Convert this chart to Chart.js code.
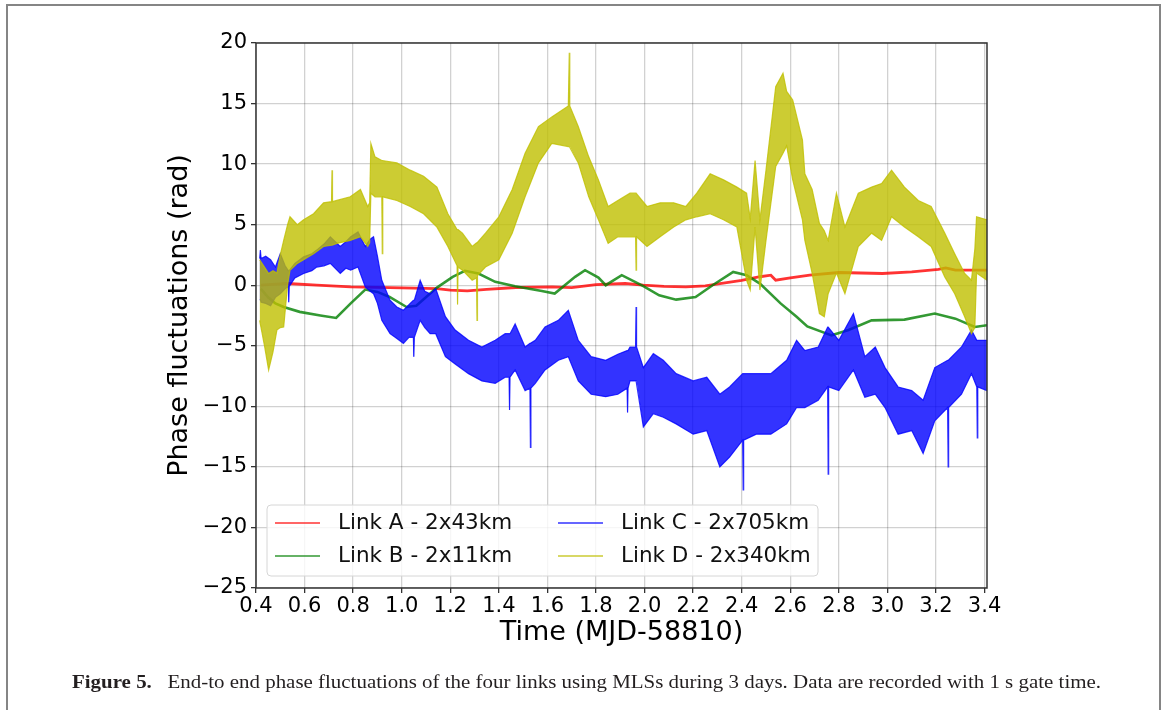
<!DOCTYPE html>
<html>
<head>
<meta charset="utf-8">
<script src="https://cdn.jsdelivr.net/npm/chart.js@4.4.1/dist/chart.umd.min.js"></script>
<style>
  html, body { margin: 0; padding: 0; background: #fff; }
  #wrap { position: relative; width: 1165px; height: 710px; overflow: hidden; }
  #frame { position: absolute; left: 6px; top: 4px; width: 1151px; height: 760px;
           border-top: 2px solid #858585; border-left: 2px solid #858585; border-right: 2px solid #858585; }
  #chartBox { position: absolute; left: 0; top: 0; width: 1165px; height: 710px; }
  #cap { position: absolute; left: 72px; top: 672px; font-family: "Liberation Serif", serif;
         font-size: 18.5px; line-height: 20px; color: #231f20; white-space: nowrap; transform-origin: 0 0; }
</style>
</head>
<body>
<div id="wrap">
  <div id="frame"></div>
  <div id="chartBox"><canvas id="phaseChart"></canvas></div>
  <div id="cap"><b>Figure 5.</b>&ensp; End-to end phase fluctuations of the four links using MLSs during 3 days. Data are recorded with 1 s gate time.</div>
</div>
<script>
// Phase fluctuation chart - four links

const xTicks = [0.4, 0.6, 0.8, 1.0, 1.2, 1.4, 1.6, 1.8, 2.0, 2.2, 2.4, 2.6, 2.8, 3.0, 3.2, 3.4];
const yTicks = [-25, -20, -15, -10, -5, 0, 5, 10, 15, 20];

const seriesLabels = ['Link A - 2x43km', 'Link B - 2x11km', 'Link C - 2x705km', 'Link D - 2x340km'];

// Link A (red) - smooth line
const linkATime = [0.42, 0.45, 0.53, 0.65, 0.79, 0.95, 1.145, 1.2, 1.27, 1.35, 1.47, 1.62, 1.7, 1.8, 1.92, 1.995,
    2.08, 2.17, 2.25, 2.31, 2.4, 2.475, 2.52, 2.54, 2.6, 2.68, 2.8, 2.98, 3.1, 3.21, 3.24, 3.28, 3.41];
const linkAPhase = [0.0, 0.05, 0.14, 0.0, -0.14, -0.2, -0.28, -0.4, -0.47, -0.35, -0.19, -0.14, -0.2, 0.05, 0.14, 0.0,
    -0.1, -0.14, -0.05, 0.14, 0.4, 0.7, 0.83, 0.41, 0.6, 0.83, 1.05, 0.97, 1.1, 1.3, 1.43, 1.24, 1.24];

// Link B (green) - smooth line
const linkBTime = [0.42, 0.45, 0.48, 0.514, 0.58, 0.665, 0.73, 0.79, 0.85, 0.9, 0.95, 1.02, 1.06, 1.145, 1.21, 1.26,
    1.316, 1.385, 1.467, 1.577, 1.63, 1.714, 1.755, 1.81, 1.84, 1.906, 1.995, 2.06, 2.13, 2.21, 2.28, 2.365, 2.42,
    2.475, 2.56, 2.626, 2.67, 2.77, 2.84, 2.935, 3.07, 3.195, 3.28, 3.36, 3.41];
const linkBPhase = [-0.3, -1.0, -1.5, -1.8, -2.2, -2.5, -2.7, -1.5, -0.36, -0.55, -0.97, -1.8, -1.7, -0.2, 0.69, 1.19,
    0.97, 0.28, -0.08, -0.47, -0.69, 0.69, 1.24, 0.63, 0.0, 0.83, -0.08, -0.83, -1.19, -0.97, 0.0, 1.1, 0.83,
    0.14, -1.5, -2.6, -3.4, -4.14, -3.7, -2.9, -2.84, -2.34, -2.76, -3.45, -3.3];

// Link C (blue) - noisy band: lower / upper envelope
const linkCTime = [0.415, 0.418, 0.421, 0.44, 0.46, 0.48, 0.5, 0.52, 0.533, 0.535, 0.537, 0.56, 0.596, 0.63, 0.65, 0.68,
    0.706, 0.747, 0.77, 0.79, 0.82, 0.85, 0.87, 0.884, 0.9, 0.918, 0.952, 0.98, 1.007, 1.03, 1.048, 1.05, 1.052,
    1.076, 1.095, 1.117, 1.14, 1.18, 1.22, 1.275, 1.33, 1.385, 1.426, 1.442, 1.444, 1.446, 1.467, 1.508, 1.528,
    1.53, 1.532, 1.55, 1.59, 1.645, 1.686, 1.727, 1.78, 1.84, 1.89, 1.928, 1.93, 1.932, 1.94, 1.963, 1.965,
    1.967, 1.995, 2.036, 2.077, 2.13, 2.2, 2.256, 2.31, 2.35, 2.404, 2.406, 2.408, 2.46, 2.52, 2.585, 2.626,
    2.66, 2.715, 2.754, 2.756, 2.758, 2.8, 2.86, 2.907, 2.95, 2.99, 3.044, 3.1, 3.147, 3.195, 3.248, 3.25,
    3.252, 3.305, 3.346, 3.368, 3.37, 3.372, 3.41];
const linkCLow = [-1.2, -1.2, -1.4, -1.5, -1.7, -1.0, -0.7, -0.3, -0.1, -1.4, -0.1, 0.6, 0.97, 1.2, 1.5, 1.6,
    1.8, 0.97, 1.4, 1.24, 1.5, -0.14, -0.5, -0.7, -1.5, -2.9, -4.0, -4.4, -4.8, -4.3, -4.3, -5.9, -4.3,
    -2.9, -3.5, -4.0, -4.0, -5.9, -6.5, -7.3, -7.9, -8.1, -7.6, -7.6, -10.3, -7.6, -7.0, -8.7, -8.5,
    -13.4, -8.5, -8.1, -7.0, -6.2, -5.9, -7.9, -9.0, -9.2, -9.0, -8.5, -10.5, -8.5, -7.9, -7.9, -7.9,
    -7.9, -11.7, -10.6, -10.9, -11.45, -12.3, -12.0, -15.0, -14.2, -12.8, -16.9, -12.8, -12.3, -12.3, -11.45, -10.1,
    -10.1, -9.5, -8.4, -15.6, -8.4, -8.7, -7.0, -9.25, -9.0, -10.1, -12.3, -12.0, -13.9, -11.2, -10.1, -15.0,
    -10.1, -9.0, -7.3, -8.4, -12.6, -8.4, -8.7];
const linkCHigh = [2.2, 2.9, 2.2, 2.4, 2.1, 1.5, 2.6, 1.6, 1.2, 1.2, 1.2, 1.8, 2.34, 2.6, 2.9, 3.4,
    4.0, 3.2, 3.6, 4.0, 4.4, 3.2, 3.8, 4.0, 2.4, 0.41, -1.24, -1.8, -2.07, -1.6, -1.24, -1.24, -1.24,
    0.41, -0.5, -0.7, -0.27, -2.6, -3.7, -4.55, -5.1, -4.55, -4.0, -4.0, -4.0, -4.0, -3.2, -5.1, -4.8,
    -4.8, -4.8, -4.55, -3.45, -2.9, -2.07, -4.55, -5.9, -6.2, -5.7, -5.4, -5.4, -5.4, -5.1, -5.1, -1.8,
    -5.1, -6.8, -5.65, -6.2, -7.3, -7.9, -7.6, -9.0, -8.4, -7.3, -7.3, -7.3, -7.3, -7.3, -6.2, -4.55,
    -5.4, -5.1, -3.45, -3.45, -3.45, -4.55, -2.34, -5.9, -5.1, -6.8, -8.4, -8.7, -9.5, -6.8, -6.2, -6.2,
    -6.2, -5.1, -3.7, -4.55, -4.55, -4.55, -4.55];

// Link D (yellow) - noisy band: lower / upper envelope
const linkDTime = [0.415, 0.435, 0.452, 0.47, 0.486, 0.5, 0.514, 0.53, 0.54, 0.57, 0.596, 0.637, 0.678, 0.711, 0.713,
    0.715, 0.733, 0.788, 0.83, 0.86, 0.868, 0.873, 0.89, 0.918, 0.92, 0.922, 0.98, 1.035, 1.09, 1.145, 1.19,
    1.228, 1.23, 1.232, 1.25, 1.29, 1.308, 1.31, 1.312, 1.345, 1.4, 1.455, 1.508, 1.563, 1.618, 1.686, 1.688,
    1.69, 1.692, 1.727, 1.77, 1.81, 1.85, 1.89, 1.94, 1.963, 1.965, 1.967, 2.01, 2.064, 2.12, 2.17, 2.215,
    2.27, 2.325, 2.38, 2.42, 2.435, 2.455, 2.475, 2.5, 2.54, 2.57, 2.585, 2.61, 2.65, 2.66, 2.69, 2.72,
    2.74, 2.756, 2.79, 2.825, 2.88, 2.935, 2.976, 3.017, 3.07, 3.127, 3.18, 3.236, 3.277, 3.318, 3.346,
    3.36, 3.367, 3.41];
const linkDLow = [-2.9, -5.0, -7.0, -5.5, -3.7, -3.5, -3.45, 0.0, 1.24, 1.8, 2.1, 2.6, 3.2, 3.3, 3.3,
    3.3, 3.45, 3.7, 4.0, 3.2, 3.5, 7.6, 7.3, 7.3, 2.6, 7.3, 7.0, 6.5, 5.9, 4.8, 3.2,
    1.6, -1.6, 1.5, 1.24, 0.41, 0.6, -2.9, 0.8, 1.5, 2.1, 4.3, 7.3, 10.1, 11.7, 11.45, 11.45,
    11.45, 11.45, 10.1, 7.3, 5.4, 3.45, 4.0, 4.0, 4.0, 1.24, 4.0, 3.2, 4.0, 4.8, 5.4, 5.65,
    5.9, 5.4, 4.8, 0.4, -0.4, 4.8, -0.4, 3.7, 9.8, 10.9, 11.5, 8.7, 5.4, 3.7, 1.0, -2.34,
    -2.6, -0.7, 1.0, -0.7, 3.2, 4.3, 3.7, 5.65, 4.8, 4.0, 3.2, 0.69, -0.7, -2.6, -4.0,
    -3.5, 1.0, 0.41];
const linkDHigh = [2.1, 1.5, 0.97, 1.2, 1.0, 2.5, 3.7, 5.0, 5.65, 5.0, 5.4, 5.9, 6.8, 6.9, 9.5,
    6.9, 7.0, 7.3, 7.9, 6.5, 6.8, 11.7, 10.6, 10.3, 10.3, 10.3, 10.1, 9.5, 9.0, 8.1, 5.9,
    4.6, 4.6, 4.6, 4.3, 3.2, 3.5, 3.5, 3.5, 4.3, 5.65, 7.9, 10.9, 13.1, 13.9, 14.8, 14.8,
    19.2, 14.8, 13.1, 10.6, 8.7, 6.5, 7.0, 7.6, 7.6, 7.6, 7.6, 6.5, 6.8, 6.8, 6.5, 7.6,
    9.2, 8.7, 8.1, 7.6, 5.5, 10.3, 5.4, 9.5, 16.4, 17.5, 16.0, 15.3, 12.0, 9.2, 7.9, 5.1,
    4.5, 3.7, 7.6, 4.8, 7.6, 8.1, 8.4, 9.5, 8.1, 7.0, 6.5, 4.3, 2.6, 0.97, 0.41,
    3.0, 5.65, 5.4];

const colors = {
    a: 'rgba(255, 0, 0, 0.8)',
    b: 'rgba(0, 128, 0, 0.8)',
    c: 'rgba(0, 0, 255, 0.8)',
    d: 'rgba(191, 191, 0, 0.8)'
};

function toPoints(xs, ys) {
    return xs.map((x, i) => ({ x: x, y: ys[i] }));
}

function lineSet(label, xs, ys, color, order, width) {
    return {
        label: label,
        data: toPoints(xs, ys),
        borderColor: color,
        backgroundColor: color,
        borderWidth: width,
        pointRadius: 0,
        tension: 0,
        fill: false,
        order: order
    };
}

function bandSets(label, xs, lo, hi, color, order) {
    const low = lineSet(label + ' (low)', xs, lo, color, order, 1.2);
    const high = lineSet(label, xs, hi, color, order, 1.2);
    high.fill = '-1';
    return [low, high];
}

// matplotlib-like legend box inside the axes, two columns
const legendPlugin = {
    id: 'mplLegend',
    afterDraw(chart) {
        const ctx = chart.ctx;
        const area = chart.chartArea;
        const boxX = area.left + 11, boxY = area.top + 462, boxW = 551, boxH = 71;
        ctx.save();
        ctx.beginPath();
        ctx.roundRect(boxX, boxY, boxW, boxH, 4);
        ctx.fillStyle = 'rgba(255,255,255,0.8)';
        ctx.fill();
        ctx.strokeStyle = '#d6d6d6';
        ctx.lineWidth = 1;
        ctx.stroke();

        const entries = [
            { text: seriesLabels[0], color: colors.a, col: 0, row: 0 },
            { text: seriesLabels[1], color: colors.b, col: 0, row: 1 },
            { text: seriesLabels[2], color: colors.c, col: 1, row: 0 },
            { text: seriesLabels[3], color: colors.d, col: 1, row: 1 }
        ];
        ctx.font = '21.5px "DejaVu Sans"';
        ctx.textBaseline = 'middle';
        ctx.textAlign = 'left';
        entries.forEach(e => {
            const x0 = boxX + 8 + e.col * 283;
            const y = boxY + 18 + e.row * 33;
            ctx.beginPath();
            ctx.moveTo(x0, y);
            ctx.lineTo(x0 + 45, y);
            ctx.strokeStyle = e.color;
            ctx.lineWidth = 1.6;
            ctx.stroke();
            ctx.fillStyle = '#111';
            ctx.fillText(e.text, x0 + 63, y);
        });

        // axes frame (spines)
        ctx.strokeStyle = '#333';
        ctx.lineWidth = 1.5;
        ctx.strokeRect(area.left, area.top, area.right - area.left, area.bottom - area.top);
        ctx.restore();
    }
};

const datasets = [
    ...bandSets(seriesLabels[3], linkDTime, linkDLow, linkDHigh, colors.d, 1),
    ...bandSets(seriesLabels[2], linkCTime, linkCLow, linkCHigh, colors.c, 2),
    lineSet(seriesLabels[1], linkBTime, linkBPhase, colors.b, 3, 2.6),
    lineSet(seriesLabels[0], linkATime, linkAPhase, colors.a, 4, 2.8)
];

const tickFont = { family: 'DejaVu Sans', size: 21 };
const titleFont = { family: 'DejaVu Sans', size: 27 };

const ctx = document.getElementById('phaseChart');
const chart = new Chart(ctx, {
    type: 'line',
    data: { datasets: datasets },
    options: {
        responsive: true,
        maintainAspectRatio: false,
        animation: false,
        events: [],
        layout: { padding: { left: 160, top: 43, right: 178, bottom: 61 } },
        plugins: {
            legend: { display: false },
            tooltip: { enabled: false },
            filler: { propagate: false }
        },
        scales: {
            x: {
                type: 'linear',
                min: 0.4,
                max: 3.41,
                afterBuildTicks: scale => { scale.ticks = xTicks.map(v => ({ value: v })); },
                afterFit: scale => { scale.height = 61; },
                ticks: {
                    font: tickFont, color: '#000', padding: 1, maxRotation: 0, autoSkip: false,
                    callback: v => v.toFixed(1)
                },
                grid: { color: 'rgba(0,0,0,0.18)', lineWidth: 1.3, tickColor: '#333', tickLength: 5, tickWidth: 1.3 },
                border: { display: false },
                title: { display: true, text: 'Time (MJD-58810)', font: titleFont, color: '#000', padding: { top: 0, bottom: 0 } }
            },
            y: {
                type: 'linear',
                min: -25,
                max: 20,
                afterBuildTicks: scale => { scale.ticks = yTicks.map(v => ({ value: v })); },
                afterFit: scale => { scale.width = 96; },
                ticks: {
                    font: tickFont, color: '#000', padding: 4, autoSkip: false,
                    callback: v => (v < 0 ? '\u2212' + Math.abs(v) : String(v))
                },
                grid: { color: 'rgba(0,0,0,0.18)', lineWidth: 1.3, tickColor: '#333', tickLength: 5, tickWidth: 1.3 },
                border: { display: false },
                title: { display: true, text: 'Phase fluctuations (rad)', font: titleFont, color: '#000', padding: { top: 4, bottom: 0 } }
            }
        }
    },
    plugins: [legendPlugin]
});

// stretch the caption to the width it has in the figure
const cap = document.getElementById('cap');
const capWidth = cap.getBoundingClientRect().width;
cap.style.transform = 'scaleX(' + (1029 / capWidth).toFixed(4) + ')';
</script>
</body>
</html>
